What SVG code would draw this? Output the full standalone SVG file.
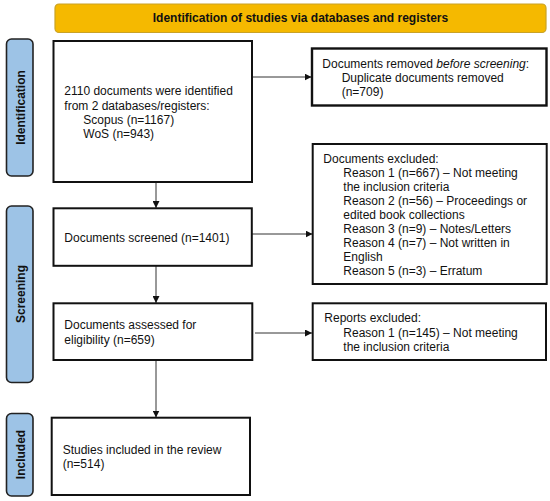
<svg xmlns="http://www.w3.org/2000/svg" width="550" height="501" viewBox="0 0 550 501">
<style>
text{font-family:"Liberation Sans",Arial,sans-serif;font-size:12px;fill:#111}
.b{font-weight:bold}
.box{fill:#fff;stroke:#111;stroke-width:2}
.side{fill:#9DC3E6;stroke:#222;stroke-width:1.6}
.hdr{fill:#F5B900;stroke:#C9A227;stroke-width:1.2}
.con{stroke:#333;stroke-width:1;fill:none;marker-end:url(#ah)}
</style>
<defs>
<marker id="ah" viewBox="0 0 10 10" refX="10" refY="5" markerWidth="7" markerHeight="7" markerUnits="userSpaceOnUse" orient="auto">
<path d="M0,0 L10,5 L0,10 z" fill="#111"/>
</marker>
</defs>
<rect width="550" height="501" fill="#fff"/>
<g id="header">
<rect class="hdr" x="55" y="4" width="491" height="28.5" rx="4"/>
<text class="b" x="300.5" y="22" text-anchor="middle">Identification of studies via databases and registers</text>
</g>
<g id="label-identification">
<rect class="side" x="6.5" y="39" width="26.5" height="137" rx="5"/>
<text class="b" transform="translate(24.5,107.5) rotate(-90)" text-anchor="middle">Identification</text>
</g>
<g id="label-screening">
<rect class="side" x="6.5" y="206" width="26.5" height="176.5" rx="5"/>
<text class="b" transform="translate(24.5,294) rotate(-90)" text-anchor="middle">Screening</text>
</g>
<g id="label-included">
<rect class="side" x="6.5" y="413.5" width="26.5" height="82.5" rx="5"/>
<text class="b" transform="translate(24.5,454.5) rotate(-90)" text-anchor="middle">Included</text>
</g>
<g id="connectors">
<line class="con" x1="252" y1="77" x2="311.5" y2="77"/>
<line class="con" x1="252" y1="234" x2="312.5" y2="234"/>
<line class="con" x1="255" y1="333" x2="312" y2="333"/>
<line class="con" x1="156" y1="182" x2="156" y2="208"/>
<line class="con" x1="156" y1="266" x2="156" y2="303"/>
<line class="con" x1="156" y1="360" x2="156" y2="417.5"/>
</g>
<g id="identified">
<rect class="box" x="53.5" y="41" width="198.5" height="141"/>
<text x="64.3" y="95">2110 documents were identified</text>
<text x="64.3" y="109.5">from 2 databases/registers:</text>
<text x="83.3" y="123.8">Scopus (n=1167)</text>
<text x="83.3" y="138">WoS (n=943)</text>
</g>
<g id="removed">
<rect class="box" x="312" y="48.5" width="234.5" height="57" style="stroke-width:2.4"/>
<text x="322.3" y="67.5">Documents removed <tspan font-style="italic">before screening</tspan>:</text>
<text x="341.7" y="81.5">Duplicate documents removed</text>
<text x="341.7" y="95.5">(n=709)</text>
</g>
<g id="screened">
<rect class="box" x="53.5" y="208.3" width="198.3" height="57.5"/>
<text x="64.3" y="241.5">Documents screened (n=1401)</text>
</g>
<g id="excluded">
<rect class="box" x="312.7" y="144" width="234" height="140"/>
<text x="323.3" y="162.5">Documents excluded:</text>
<text x="343.3" y="176.5">Reason 1 (n=667) – Not meeting</text>
<text x="343.3" y="190.6">the inclusion criteria</text>
<text x="343.3" y="204.6">Reason 2 (n=56) – Proceedings or</text>
<text x="343.3" y="218.7">edited book collections</text>
<text x="343.3" y="232.7">Reason 3 (n=9) – Notes/Letters</text>
<text x="343.3" y="246.8">Reason 4 (n=7) – Not written in</text>
<text x="343.3" y="260.8">English</text>
<text x="343.3" y="274.9">Reason 5 (n=3) – Erratum</text>
</g>
<g id="eligibility">
<rect class="box" x="53.5" y="303.3" width="198.8" height="56.7"/>
<text x="64.3" y="329">Documents assessed for</text>
<text x="64.3" y="343.5">eligibility (n=659)</text>
</g>
<g id="reports-excluded">
<rect class="box" x="312.7" y="303.3" width="233.3" height="56.7"/>
<text x="324.3" y="322">Reports excluded:</text>
<text x="343.3" y="336.5">Reason 1 (n=145) – Not meeting</text>
<text x="343.3" y="351">the inclusion criteria</text>
</g>
<g id="included">
<rect class="box" x="51.7" y="417.7" width="198.3" height="77.3"/>
<text x="62.7" y="454">Studies included in the review</text>
<text x="62.7" y="468">(n=514)</text>
</g>
</svg>
